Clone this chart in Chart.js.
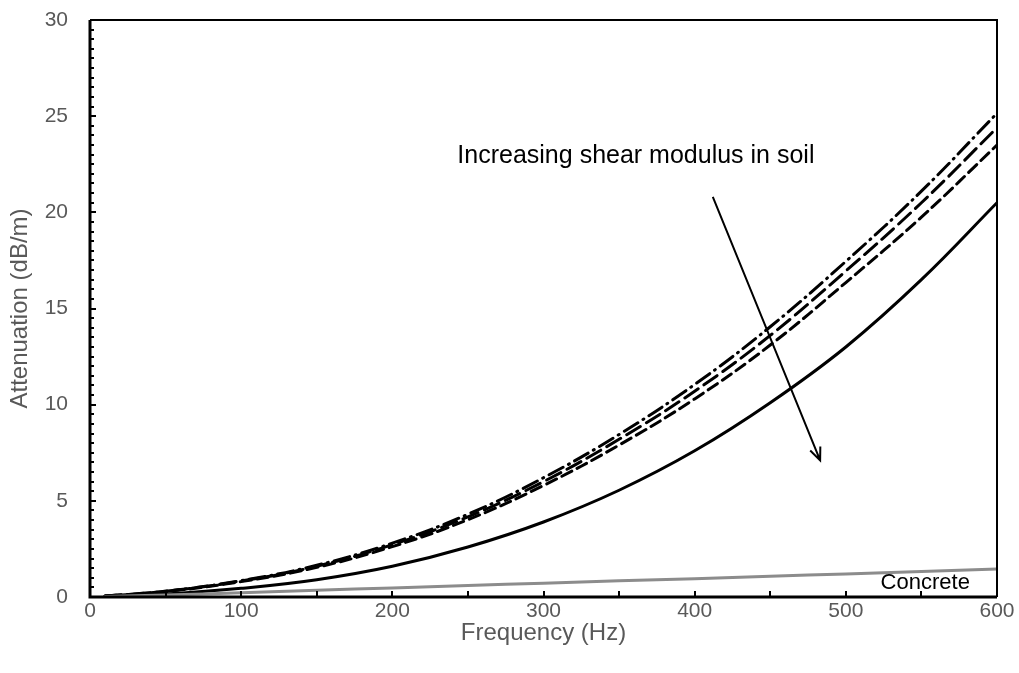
<!DOCTYPE html>
<html lang="en">
<head>
    <meta charset="UTF-8">
    <title>Attenuation vs Frequency</title>
    <script src="https://cdn.jsdelivr.net/npm/chart.js@4/dist/chart.umd.min.js"></script>
    <style>
        html, body { margin: 0; padding: 0; background: #fff; }
        #wrap { width: 1019px; height: 673px; }
    </style>
</head>
<body>
<div id="wrap"><canvas id="myChart" width="1019" height="673"></canvas></div>
<script>
    // values
    var freq = [10, 50, 100, 150, 200, 250, 300, 350, 400, 450, 500, 550, 600];
    var soilDashDot = [0.05, 0.3, 0.85, 1.65, 2.8, 4.3, 6.2, 8.45, 11.05, 14.05, 17.45, 21.1, 25.15];
    var soilLongDash = [0.05, 0.3, 0.83, 1.6, 2.72, 4.17, 6.0, 8.2, 10.7, 13.6, 16.95, 20.5, 24.4];
    var soilDash = [0.05, 0.28, 0.8, 1.54, 2.62, 4.02, 5.8, 7.9, 10.3, 13.1, 16.35, 19.75, 23.5];
    var soilSolid = [0.02, 0.15, 0.45, 0.9, 1.6, 2.6, 3.9, 5.55, 7.6, 10.1, 13.0, 16.5, 20.5];
    var concrete = [0.02, 0.1, 0.22, 0.35, 0.47, 0.6, 0.72, 0.84, 0.95, 1.08, 1.2, 1.33, 1.45];

    var xTicks = [0, 100, 200, 300, 400, 500, 600];
    var yTicks = [0, 5, 10, 15, 20, 25, 30];

    var arrowFrom = [412, 20.8];
    var arrowTo = [483, 7.1];
    var arrowText = 'Increasing shear modulus in soil';
    var arrowTextAt = [243, 22.9];
    var concreteText = 'Concrete';
    var concreteTextAt = [523, 0.75];

    var FONT = '"Liberation Sans", Arial, sans-serif';

    function pts(ys) {
        return freq.map(function (f, i) { return { x: f, y: ys[i] }; });
    }

    function series(ys, color, dash) {
        return {
            data: pts(ys),
            borderColor: color,
            borderWidth: 3,
            borderDash: dash,
            borderCapStyle: 'round',
            pointRadius: 0,
            fill: false,
            tension: 0.4
        };
    }

    var frame = {
        id: 'frame',
        afterDatasetsDraw: function (chart) {
            var ctx = chart.ctx, a = chart.chartArea;
            var xs = chart.scales.x, ys = chart.scales.y;
            ctx.save();
            ctx.strokeStyle = '#000';
            // thin top/right
            ctx.lineWidth = 2;
            ctx.beginPath();
            ctx.moveTo(a.left, a.top); ctx.lineTo(a.right, a.top); ctx.lineTo(a.right, a.bottom);
            ctx.stroke();
            // heavy left/bottom
            ctx.lineWidth = 3;
            ctx.beginPath();
            ctx.moveTo(a.left, a.top); ctx.lineTo(a.left, a.bottom); ctx.lineTo(a.right, a.bottom);
            ctx.stroke();
            // inside ticks
            ctx.lineWidth = 2;
            ctx.beginPath();
            for (var v = 0; v <= 30; v += 0.5) {
                var py = Math.round(ys.getPixelForValue(v));
                var len = (v % 5 === 0) ? 6 : 4;
                ctx.moveTo(a.left, py); ctx.lineTo(a.left + len, py);
            }
            for (var f = 50; f < 600; f += 50) {
                var px = Math.round(xs.getPixelForValue(f));
                ctx.moveTo(px, a.bottom); ctx.lineTo(px, a.bottom - 6);
            }
            ctx.stroke();

            // arrow
            var x1 = xs.getPixelForValue(arrowFrom[0]), y1 = ys.getPixelForValue(arrowFrom[1]);
            var x2 = xs.getPixelForValue(arrowTo[0]), y2 = ys.getPixelForValue(arrowTo[1]);
            var ang = Math.atan2(y2 - y1, x2 - x1);
            ctx.lineWidth = 2;
            ctx.beginPath();
            ctx.moveTo(x1, y1); ctx.lineTo(x2, y2);
            ctx.moveTo(x2 - 14 * Math.cos(ang - 0.4), y2 - 14 * Math.sin(ang - 0.4));
            ctx.lineTo(x2, y2);
            ctx.lineTo(x2 - 14 * Math.cos(ang + 0.4), y2 - 14 * Math.sin(ang + 0.4));
            ctx.stroke();

            // labels
            ctx.fillStyle = '#000';
            ctx.textBaseline = 'middle';
            ctx.textAlign = 'left';
            ctx.font = '25px ' + FONT;
            ctx.fillText(arrowText, xs.getPixelForValue(arrowTextAt[0]), ys.getPixelForValue(arrowTextAt[1]));
            ctx.font = '22px ' + FONT;
            ctx.fillText(concreteText, xs.getPixelForValue(concreteTextAt[0]), ys.getPixelForValue(concreteTextAt[1]));
            ctx.restore();
        }
    };

    function createChart() {
        var ctx = document.getElementById('myChart').getContext('2d');
        new Chart(ctx, {
            type: 'line',
            data: {
                datasets: [
                    series(concrete, '#8c8c8c', []),
                    series(soilDashDot, '#000', [16, 6, 1, 6]),
                    series(soilLongDash, '#000', [16, 7]),
                    series(soilDash, '#000', [11, 6]),
                    series(soilSolid, '#000', [])
                ]
            },
            options: {
                responsive: false,
                animation: false,
                layout: { padding: { left: 0, top: 20, right: 22, bottom: 0 } },
                plugins: { legend: { display: false }, tooltip: { enabled: false } },
                scales: {
                    x: {
                        type: 'linear', min: 0, max: 600,
                        afterFit: function (s) { s.height = 76; s.paddingLeft = 0; s.paddingRight = 0; },
                        afterBuildTicks: function (s) { s.ticks = xTicks.map(function (v) { return { value: v }; }); },
                        grid: { display: false, drawTicks: false },
                        border: { display: false },
                        ticks: { color: '#595959', padding: 2, font: { family: FONT, size: 21 } },
                        title: { display: true, text: 'Frequency (Hz)', color: '#595959',
                                 padding: { top: 0, bottom: 25 }, font: { family: FONT, size: 24 } }
                    },
                    y: {
                        type: 'linear', min: 0, max: 30,
                        afterFit: function (s) { s.width = 90; s.paddingTop = 0; s.paddingBottom = 0; },
                        afterBuildTicks: function (s) { s.ticks = yTicks.map(function (v) { return { value: v }; }); },
                        grid: { display: false, drawTicks: false },
                        border: { display: false },
                        ticks: { color: '#595959', padding: 22, font: { family: FONT, size: 21 } },
                        title: { display: true, text: 'Attenuation (dB/m)', color: '#595959',
                                 padding: { top: 6, bottom: 0 }, font: { family: FONT, size: 24 } }
                    }
                }
            },
            plugins: [frame]
        });
    }
    createChart();
</script>
</body>
</html>
